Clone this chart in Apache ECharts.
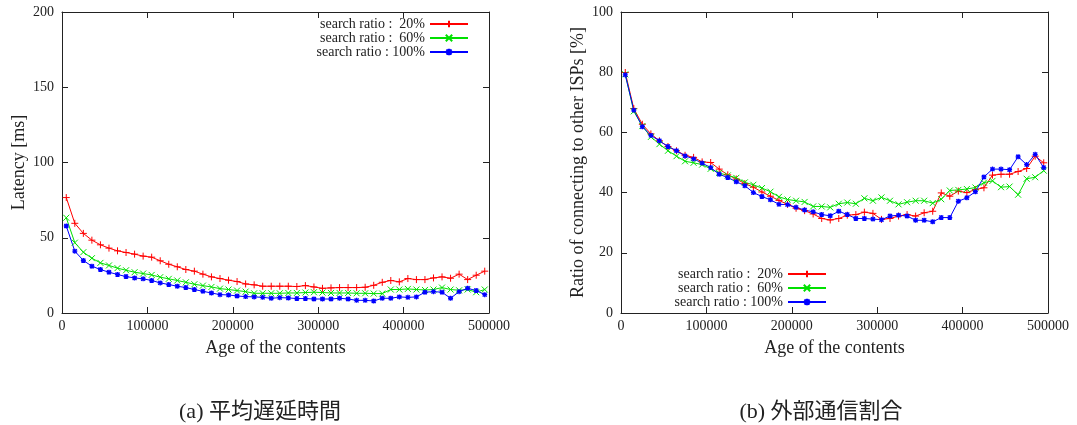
<!DOCTYPE html>
<html>
<head>
<meta charset="utf-8">
<script src="https://cdn.jsdelivr.net/npm/echarts@6/dist/echarts.min.js"></script>
<style>
html,body{margin:0;padding:0;background:#fff;}
#c{width:1077px;height:425px;}
</style>
</head>
<body>
<div id="c"></div>
<script>
// ---- data ----
var ages = [];
for (var i = 0; i < 50; i++) ages.push(5000 + 10000 * i);

var seriesNames = ['search ratio :  20%', 'search ratio :  60%', 'search ratio : 100%'];

var latency20 = [76.7,59.6,52.9,48.4,45.3,43.1,41.3,40.2,39.1,37.8,37.1,34.7,32.4,30.7,28.9,27.8,25.8,24.0,22.9,21.8,
  20.9,19.3,18.7,17.8,17.8,17.8,17.8,17.6,18.2,17.3,16.4,16.7,16.9,16.9,16.9,17.1,18.4,20.4,21.6,20.7,
  22.9,22.2,22.2,23.3,24.0,23.1,25.8,22.2,25.1,27.8];
var latency60 = [63.3,46.7,40.4,36.4,33.3,31.6,29.8,28.4,27.1,26.2,25.3,23.8,22.7,21.6,20.4,19.1,18.2,17.3,16.2,15.6,
  14.9,14.2,13.1,13.1,13.1,13.1,13.3,13.3,13.6,13.8,13.6,13.3,13.3,13.3,13.1,13.1,12.9,12.9,15.6,15.6,
  16.0,15.6,15.3,15.6,16.9,15.6,15.1,15.6,13.8,15.6];
var latency100 = [57.8,41.1,34.9,31.1,28.9,27.1,25.6,24.2,23.3,22.7,21.6,20.0,18.9,17.8,16.9,15.6,14.4,13.3,12.2,12.0,
  11.3,10.9,10.7,10.4,9.8,10.2,10.0,9.6,9.6,9.3,9.3,9.3,9.8,9.3,8.4,8.4,8.0,9.8,9.8,10.7,
  10.4,10.7,13.8,14.2,13.8,9.8,14.2,16.4,14.9,12.2];

var ratio20 = [79.9,67.9,62.7,59.5,57.2,55.3,53.9,52.4,51.7,50.2,50.0,47.8,45.9,44.5,43.0,41.8,40.2,38.8,37.4,36.1,
  34.8,34.0,32.9,31.4,30.9,31.4,32.5,32.7,33.5,33.1,31.1,31.4,32.2,32.7,32.2,33.3,33.8,39.9,38.8,40.5,
  40.0,41.0,41.6,45.8,46.1,46.1,47.0,48.0,52.1,49.9];
var ratio60 = [79.3,67.0,62.1,58.5,56.1,53.9,52.1,50.4,49.9,49.3,47.9,46.5,45.7,44.9,43.4,42.6,41.5,40.3,38.6,37.7,
  37.3,36.9,35.4,35.4,35.1,36.3,36.7,36.3,38.1,37.3,38.4,37.3,36.1,36.8,37.3,37.3,36.5,37.8,40.7,40.9,
  41.2,41.7,43.3,43.9,41.8,42.0,39.3,44.6,45.1,47.3];
var ratio100 = [79.1,67.4,61.9,59.0,57.2,55.3,53.9,52.2,51.2,49.8,48.3,46.1,45.0,43.6,42.3,40.0,38.7,37.6,36.1,36.0,
  35.1,34.2,33.6,32.7,32.3,33.8,32.7,31.4,31.4,31.2,31.0,32.2,32.5,32.2,30.8,30.8,30.3,31.7,31.7,37.1,
  38.3,40.3,45.2,47.8,47.8,47.6,51.9,49.3,52.7,48.3];

var xTicks = {min: 0, max: 500000, interval: 100000};
var latencyTicks = {min: 0, max: 200, interval: 50};
var ratioTicks = {min: 0, max: 100, interval: 20};

var captions = ['(a) 平均遅延時間', '(b) 外部通信割合'];

// ---- styles ----
var colors = ['#ff0000', '#00e000', '#0000ff'];
var symbols = [
  'path://M-1,0L1,0M0,-1L0,1',
  'path://M-1,-1L1,1M-1,1L1,-1',
  'path://M-1,0L1,0M0,-1L0,1M-0.8,-0.8L0.8,0.8M-0.8,0.8L0.8,-0.8'
];
var symbolSizes = [7, 6, 5];
var serifFont = '"Liberation Serif", "DejaVu Serif", serif';
var axisColor = '#222';

function zip(xs, ys) { return xs.map(function (x, i) { return [x, ys[i]]; }); }
function plain(v) { return String(v); }

function xAxisDef(gi, pos, name) {
  return {
    type: 'value', gridIndex: gi, position: pos,
    min: xTicks.min, max: xTicks.max, interval: xTicks.interval,
    name: name || '', nameLocation: 'middle', nameGap: 26,
    nameTextStyle: {fontFamily: serifFont, fontSize: 18, color: axisColor},
    axisLine: {show: true, onZero: false, lineStyle: {color: axisColor, width: 1}},
    axisTick: {show: true, inside: true, length: 6, lineStyle: {color: axisColor}},
    axisLabel: {show: pos === 'bottom', fontFamily: serifFont, fontSize: 14, color: axisColor, margin: 6,
      showMinLabel: true, showMaxLabel: true, formatter: plain},
    splitLine: {show: false}
  };
}
function yAxisDef(gi, pos, ticks, name) {
  return {
    type: 'value', gridIndex: gi, position: pos,
    min: ticks.min, max: ticks.max, interval: ticks.interval,
    name: name || '', nameLocation: 'middle', nameGap: 34,
    nameTextStyle: {fontFamily: serifFont, fontSize: 18, color: axisColor},
    axisLine: {show: true, onZero: false, lineStyle: {color: axisColor, width: 1}},
    axisTick: {show: true, inside: true, length: 6, lineStyle: {color: axisColor}},
    axisLabel: {show: pos === 'left', fontFamily: serifFont, fontSize: 14, color: axisColor, margin: 8,
      formatter: plain},
    splitLine: {show: false}
  };
}
function lineSeries(k, gi, xi, yi, ys) {
  return {
    type: 'line', name: seriesNames[k], xAxisIndex: xi, yAxisIndex: yi,
    data: zip(ages, ys),
    symbol: symbols[k], symbolSize: symbolSizes[k], showAllSymbol: true,
    lineStyle: {color: colors[k], width: 1},
    itemStyle: {color: colors[k], borderColor: colors[k], borderWidth: k === 2 ? 1.3 : 1},
    animation: false
  };
}

var chart = echarts.init(document.getElementById('c'), null, {renderer: 'canvas'});
chart.setOption({
  backgroundColor: '#fff',
  animation: false,
  grid: [
    {left: 62, top: 12, width: 427, height: 301},
    {left: 621, top: 12, width: 427, height: 301}
  ],
  xAxis: [
    xAxisDef(0, 'bottom', 'Age of the contents'),
    xAxisDef(0, 'top'),
    xAxisDef(1, 'bottom', 'Age of the contents'),
    xAxisDef(1, 'top')
  ],
  yAxis: [
    yAxisDef(0, 'left', latencyTicks, 'Latency [ms]'),
    yAxisDef(0, 'right', latencyTicks),
    yAxisDef(1, 'left', ratioTicks, 'Ratio of connecting to other ISPs [%]'),
    yAxisDef(1, 'right', ratioTicks)
  ],
  legend: [
    {orient: 'vertical', right: 603, top: 12, align: 'right', itemWidth: 38, itemHeight: 8, itemGap: 0,
      data: seriesNames, selectedMode: false,
      textStyle: {fontFamily: serifFont, fontSize: 14, color: axisColor}},
    {orient: 'vertical', right: 245, top: 262, align: 'right', itemWidth: 38, itemHeight: 8, itemGap: 0,
      data: seriesNames, selectedMode: false,
      textStyle: {fontFamily: serifFont, fontSize: 14, color: axisColor}}
  ],
  series: [
    lineSeries(0, 0, 0, 0, latency20),
    lineSeries(1, 0, 0, 0, latency60),
    lineSeries(2, 0, 0, 0, latency100),
    lineSeries(0, 1, 2, 2, ratio20),
    lineSeries(1, 1, 2, 2, ratio60),
    lineSeries(2, 1, 2, 2, ratio100)
  ],
  graphic: [
    {type: 'text', x: 260, y: 412, style: {text: captions[0], fill: '#222',
      font: '22px "Liberation Serif", "Noto Sans CJK JP"', textAlign: 'center', textVerticalAlign: 'middle'}},
    {type: 'text', x: 821, y: 412, style: {text: captions[1], fill: '#222',
      font: '22px "Liberation Serif", "Noto Sans CJK JP"', textAlign: 'center', textVerticalAlign: 'middle'}}
  ]
});
</script>
</body>
</html>
